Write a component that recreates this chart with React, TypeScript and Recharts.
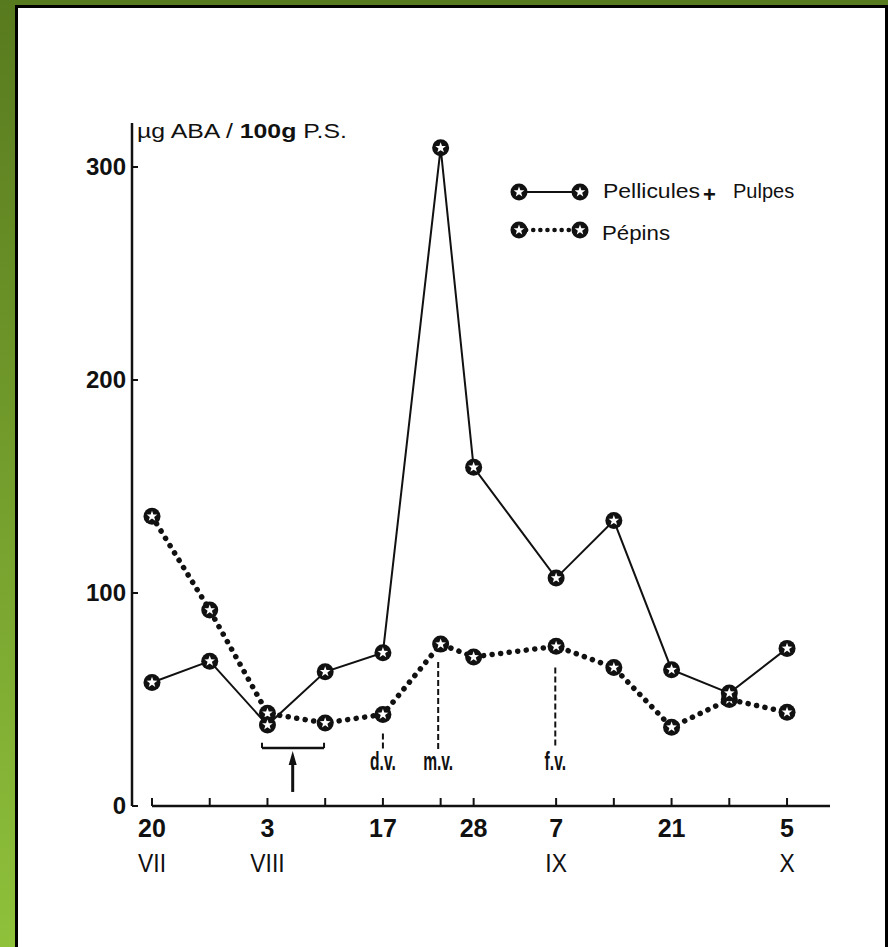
import React from 'react';
import { ComposedChart, Line, XAxis, YAxis, ReferenceLine, ReferenceDot, Legend } from 'recharts';

// days counted from 20 July
const days = [0, 7, 14, 21, 28, 35, 39, 49, 56, 63, 70, 77];
const dayLabels = ['20', '', '3', '', '17', '', '28', '7', '', '21', '', '5'];
const monthLabels = ['VII', '', 'VIII', '', '', '', '', 'IX', '', '', '', 'X'];

// µg ABA / 100g P.S.
const pelliculesPulpes = [58, 68, 38, 63, 72, 309, 159, 107, 134, 64, 53, 74];
const pepins = [136, 92, 43.5, 39, 43, 76, 70, 75, 65, 37, 50, 44];

const yTicks = [0, 100, 200, 300];

// stage markers (d.v. / m.v. / f.v.)
const stages = [
  { label: 'd.v.', day: 28, top: 34, bottom: 26 },
  { label: 'm.v.', day: 34.7, top: 67.6, bottom: 26 },
  { label: 'f.v.', day: 48.9, top: 65, bottom: 28 },
];
const stageLabelLevel = 17;

// treatment bracket and arrow
const bracket = { from: 13.34, to: 20.86, level: 27.2 };
const arrow = { day: 17.06, from: 6.6, to: 24 };

const data = days.map((d, i) => ({ day: d, pp: pelliculesPulpes[i], pep: pepins[i] }));

const font = '"Liberation Sans", Arial, Helvetica, sans-serif';

const starPath = (cx: number, cy: number, ro: number, ri: number) => {
  let d = '';
  for (let i = 0; i < 10; i++) {
    const r = i % 2 === 0 ? ro : ri;
    const a = -Math.PI / 2 + (i * Math.PI) / 5;
    d += (i === 0 ? 'M' : 'L') + (cx + r * Math.cos(a)).toFixed(2) + ',' + (cy + r * Math.sin(a)).toFixed(2);
  }
  return d + 'Z';
};

const StarDot = (props: any) => {
  const { cx, cy } = props;
  if (cx == null || cy == null) return null;
  return (
    <g>
      <circle cx={cx} cy={cy} r={8.5} fill="#111" />
      <path d={starPath(cx, cy, 5.6, 2.3)} fill="#fff" />
    </g>
  );
};

const YTick = (props: any) => {
  const { x, y, payload } = props;
  const axisX = x + 6;
  return (
    <g>
      <line x1={axisX} x2={axisX + 6} y1={y} y2={y} stroke="#111" strokeWidth={2} />
      <text x={x} y={y + 8} textAnchor="end" fontFamily={font} fontWeight="bold" fontSize={24} fill="#111">
        {payload.value}
      </text>
    </g>
  );
};

const XTick = (props: any) => {
  const { x, y, payload } = props;
  const i = days.indexOf(payload.value);
  const num = dayLabels[i];
  const month = monthLabels[i];
  return (
    <g>
      <line x1={x} x2={x} y1={y} y2={y - 8} stroke="#111" strokeWidth={2} />
      {num && (
        <text x={x} y={y + 31} textAnchor="middle" fontFamily={font} fontWeight="bold" fontSize={25} fill="#111">
          {num}
        </text>
      )}
      {month && (
        <text
          transform={`translate(${x},${y + 66}) scale(0.88,1)`}
          textAnchor="middle"
          fontFamily={font}
          fontSize={26}
          fill="#111"
        >
          {month}
        </text>
      )}
    </g>
  );
};

const LegendBox = () => (
  <svg width={330} height={85} style={{ display: 'block', overflow: 'visible' }}>
    <line x1={24} x2={85} y1={27} y2={27} stroke="#111" strokeWidth={2} />
    <StarDot cx={24} cy={27} />
    <StarDot cx={85} cy={27} />
    <text x={108} y={33} fontFamily={font} fontSize={20} textLength={97} lengthAdjust="spacingAndGlyphs" fill="#111">
      Pellicules
    </text>
    <text x={208} y={37} fontFamily={font} fontWeight="bold" fontSize={22} fill="#111">
      +
    </text>
    <text x={238} y={33} fontFamily={font} fontSize={20} fill="#111">
      Pulpes
    </text>
    <line x1={24} x2={85} y1={65} y2={65} stroke="#111" strokeWidth={4.5} strokeDasharray="0.1 7" strokeLinecap="round" />
    <StarDot cx={24} cy={65} />
    <StarDot cx={85} cy={65} />
    <text x={107} y={75} fontFamily={font} fontSize={20} textLength={68} lengthAdjust="spacingAndGlyphs" fill="#111">
      Pépins
    </text>
  </svg>
);

const StageLabel = (label: string) => (props: any) => (
  <text
    transform={`translate(${props.cx},${props.cy}) scale(0.6,1)`}
    textAnchor="middle"
    fontFamily={font}
    fontWeight="bold"
    fontSize={26}
    fill="#111"
  >
    {label}
  </text>
);

const ArrowHead = (props: any) => {
  const { cx, cy } = props;
  return <path d={`M${cx},${cy - 4} L${cx - 4},${cy + 10} L${cx + 4},${cy + 10} Z`} fill="#111" />;
};

const YTitle = (props: any) => {
  const { viewBox } = props;
  return (
    <text
      x={viewBox.x + viewBox.width + 5}
      y={viewBox.y + 15}
      fontFamily={font}
      fontSize={20}
      textLength={210}
      lengthAdjust="spacingAndGlyphs"
      fill="#111"
    >
      µg ABA / <tspan fontWeight="bold">100g</tspan> P.S.
    </text>
  );
};

export default function App() {
  return (
    <div
      style={{
        position: 'absolute',
        left: 0,
        top: 0,
        width: 888,
        height: 947,
        overflow: 'hidden',
        background: 'linear-gradient(to bottom, #587a1e, #8fc13b)',
      }}
    >
      <div
        style={{
          position: 'absolute',
          left: 15,
          top: 5,
          width: 873,
          height: 960,
          background: '#fff',
          borderLeft: '3px solid #000',
          borderTop: '3px solid #000',
          borderRight: '3px solid #000',
          boxSizing: 'border-box',
        }}
      />
      <div style={{ position: 'absolute', left: 0, top: 0 }}>
        <ComposedChart width={888} height={947} data={data} margin={{ top: 123, right: 58, bottom: 61, left: 72 }}>
          <XAxis
            type="number"
            dataKey="day"
            domain={[-2.425, 82.21]}
            allowDataOverflow
            ticks={days}
            interval={0}
            axisLine={false}
            tickLine={false}
            tickSize={0}
            tickMargin={0}
            height={80}
            tick={<XTick />}
          />
          <YAxis
            type="number"
            domain={[0, 320.66]}
            allowDataOverflow
            ticks={yTicks}
            interval={0}
            width={60}
            axisLine={{ stroke: '#111', strokeWidth: 2.5 }}
            tickLine={false}
            tickSize={0}
            tickMargin={6}
            tick={<YTick />}
            label={<YTitle />}
          />
          <ReferenceLine
            segment={[{ x: 0, y: 0 }, { x: 82.21, y: 0 }]}
            stroke="#111"
            strokeWidth={2.5}
            ifOverflow="visible"
          />
          {stages.map((s) => (
            <ReferenceLine
              key={s.label}
              segment={[{ x: s.day, y: s.top }, { x: s.day, y: s.bottom }]}
              stroke="#111"
              strokeWidth={2}
              strokeDasharray="6 3"
            />
          ))}
          {stages.map((s) => (
            <ReferenceDot key={s.label + '-t'} x={s.day} y={stageLabelLevel} shape={StageLabel(s.label)} />
          ))}
          <ReferenceLine
            segment={[{ x: bracket.from, y: bracket.level }, { x: bracket.to, y: bracket.level }]}
            stroke="#111"
            strokeWidth={2.5}
          />
          <ReferenceLine
            segment={[{ x: bracket.from, y: bracket.level }, { x: bracket.from, y: bracket.level + 2.5 }]}
            stroke="#111"
            strokeWidth={2}
          />
          <ReferenceLine
            segment={[{ x: bracket.to, y: bracket.level }, { x: bracket.to, y: bracket.level + 2.5 }]}
            stroke="#111"
            strokeWidth={2}
          />
          <ReferenceLine
            segment={[{ x: arrow.day, y: arrow.from }, { x: arrow.day, y: arrow.to - 3 }]}
            stroke="#111"
            strokeWidth={3}
          />
          <ReferenceDot x={arrow.day} y={arrow.to} shape={ArrowHead} />
          <Line
            type="linear"
            dataKey="pep"
            name="Pépins"
            stroke="#111"
            strokeWidth={5.5}
            strokeDasharray="0.1 8.5"
            strokeLinecap="round"
            dot={<StarDot />}
            activeDot={false}
            isAnimationActive={false}
          />
          <Line
            type="linear"
            dataKey="pp"
            name="Pellicules + Pulpes"
            stroke="#111"
            strokeWidth={2}
            dot={<StarDot />}
            activeDot={false}
            isAnimationActive={false}
          />
          <Legend
            layout="horizontal"
            verticalAlign="middle"
            align="center"
            content={<LegendBox />}
            wrapperStyle={{ position: 'absolute', left: 495, top: 165, width: 330, height: 85 }}
          />
        </ComposedChart>
      </div>
    </div>
  );
}
